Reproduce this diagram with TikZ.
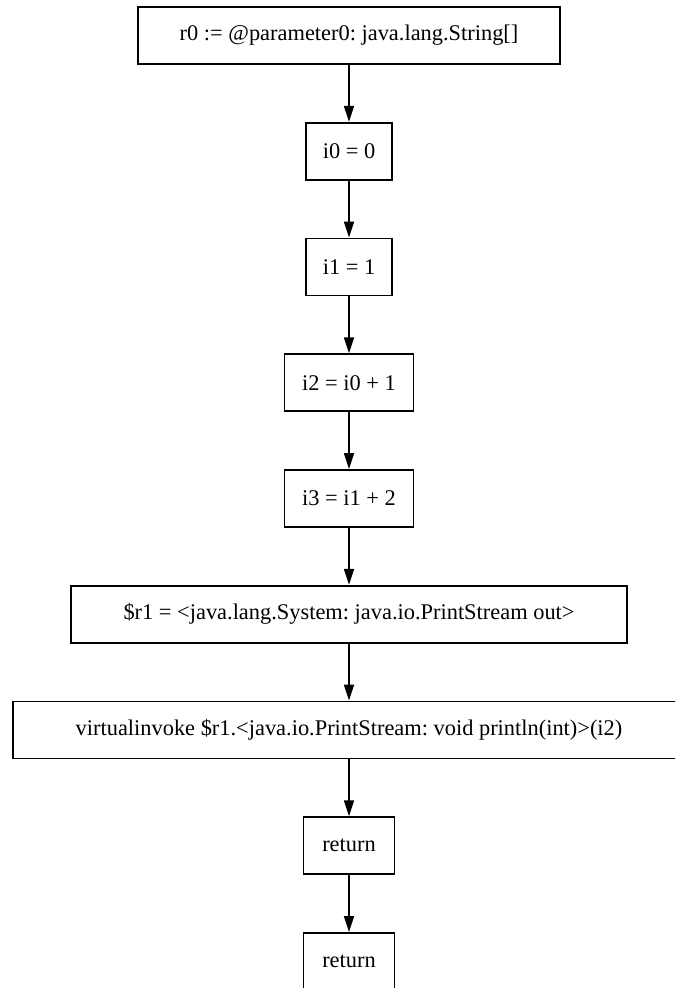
\documentclass[tikz,border=0pt]{standalone}
\usepackage{fontspec}
\setmainfont{Liberation Serif}
\frenchspacing
\usetikzlibrary{arrows.meta}
\begin{document}
\begin{tikzpicture}[x=0.5pt,y=-0.5pt,
  stmt/.style={draw, rectangle, line width=0.9pt, minimum height=28.5pt,
    inner sep=0pt, font=\fontsize{11.2}{13}\selectfont},
  flow/.style={draw, line width=0.8pt, -{Triangle[length=8pt,width=5pt]}}]
  \useasboundingbox (0,0) rectangle (675,988);
  \begin{scope}
    \clip (0,0) rectangle (675,988);
    \node[stmt, minimum width=211pt]  (s0) at (349,35.5)   {r0 := @parameter0: java.lang.String[]};
    \node[stmt, minimum width=43pt]   (s1) at (349,151.25) {i0 = 0};
    \node[stmt, minimum width=43pt]   (s2) at (349,267)    {i1 = 1};
    \node[stmt, minimum width=64.5pt] (s3) at (349,382.75) {i2 = i0 + 1};
    \node[stmt, minimum width=64.5pt] (s4) at (349,498.5)  {i3 = i1 + 2};
    \node[stmt, minimum width=278pt]  (s5) at (349,614.25) {\$r1 = <java.lang.System: java.io.PrintStream out>};
    \node[stmt, minimum width=336pt]  (s6) at (349,730)    {virtualinvoke \$r1.<java.io.PrintStream: void println(int)>(i2)};
    \node[stmt, minimum width=45.5pt] (s7) at (349,845.75) {return};
    \node[stmt, minimum width=45.5pt] (s8) at (349,961.5)  {return};
    \foreach \a/\b in {s0/s1,s1/s2,s2/s3,s3/s4,s4/s5,s5/s6,s6/s7,s7/s8}
      \draw[flow] (\a) -- (\b);
  \end{scope}
\end{tikzpicture}
\end{document}
